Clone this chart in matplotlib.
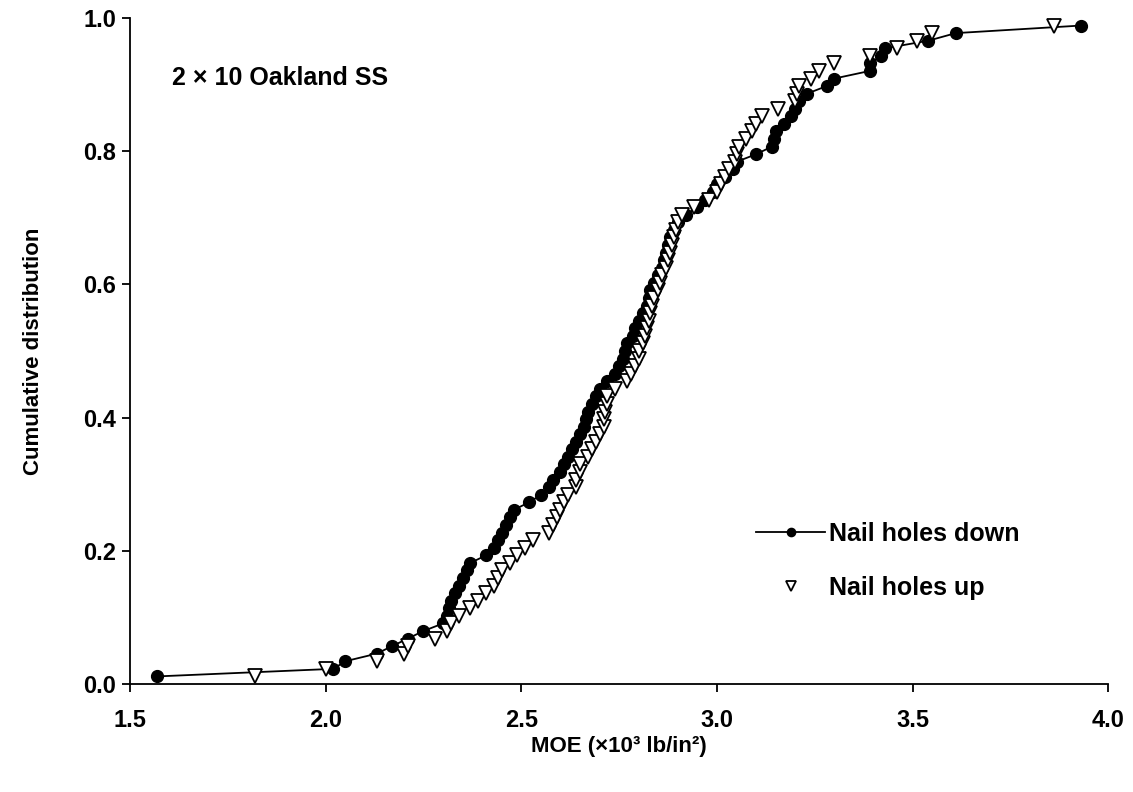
import matplotlib.pyplot as plt
import numpy as np

plt.rcParams['font.family'] = ['Liberation Sans', 'DejaVu Sans']
plt.rcParams['font.weight'] = 'bold'

# MOE values (x10^3 lb/in^2), sorted
moe_down = [1.57, 2.02, 2.05, 2.13, 2.17, 2.21, 2.25, 2.30, 2.31, 2.315,
            2.32, 2.33, 2.34, 2.35, 2.36, 2.37, 2.41, 2.43, 2.44, 2.45,
            2.46, 2.47, 2.48, 2.52, 2.55, 2.57, 2.58, 2.60, 2.61, 2.62,
            2.63, 2.64, 2.65, 2.66, 2.665, 2.67, 2.68, 2.69, 2.70, 2.72,
            2.74, 2.75, 2.76, 2.765, 2.77, 2.785, 2.79, 2.80, 2.81, 2.82,
            2.825, 2.83, 2.84, 2.85, 2.86, 2.865, 2.87, 2.875, 2.88, 2.89,
            2.90, 2.92, 2.95, 2.97, 2.99, 3.00, 3.02, 3.04, 3.05, 3.10,
            3.14, 3.145, 3.15, 3.17, 3.19, 3.20, 3.21, 3.23, 3.28, 3.30,
            3.39, 3.39, 3.42, 3.43, 3.54, 3.61, 3.93]

moe_up = [1.82, 2.00, 2.13, 2.20, 2.21, 2.28, 2.31, 2.32, 2.34, 2.37,
          2.39, 2.41, 2.43, 2.44, 2.45, 2.47, 2.49, 2.51, 2.53, 2.57,
          2.58, 2.59, 2.60, 2.61, 2.62, 2.64, 2.64, 2.65, 2.65, 2.67,
          2.68, 2.69, 2.70, 2.71, 2.71, 2.715, 2.72, 2.72, 2.74, 2.77,
          2.78, 2.79, 2.80, 2.80, 2.81, 2.815, 2.82, 2.825, 2.83, 2.835,
          2.84, 2.85, 2.855, 2.86, 2.87, 2.875, 2.88, 2.885, 2.89, 2.895,
          2.90, 2.91, 2.94, 2.98, 3.00, 3.01, 3.02, 3.03, 3.045, 3.05,
          3.055, 3.075, 3.09, 3.10, 3.115, 3.155, 3.20, 3.205, 3.21, 3.24,
          3.26, 3.30, 3.39, 3.46, 3.51, 3.55, 3.86]

xticks = [1.5, 2.0, 2.5, 3.0, 3.5, 4.0]
yticks = [0.0, 0.2, 0.4, 0.6, 0.8, 1.0]


def ecdf(vals):
    vals = np.sort(np.asarray(vals))
    n = len(vals)
    return vals, np.arange(1, n + 1) / (n + 1)


fig = plt.figure(figsize=(11.33, 7.92), dpi=100)
ax = fig.add_axes([0.1147, 0.1364, 0.8636, 0.8409])

x1, y1 = ecdf(moe_down)
x2, y2 = ecdf(moe_up)
ax.plot(x1, y1, '-o', color='black', lw=1.3, ms=8.5, label='Nail holes down')
ax.plot(x2, y2, 'v', color='black', mfc='white', mew=1.3, ms=10,
        linestyle='none', label='Nail holes up')

ax.set_xlim(1.5, 4.0)
ax.set_ylim(0, 1.0)
ax.set_xticks(xticks)
ax.set_yticks(yticks)
ax.set_xticklabels([f'{t:.1f}' for t in xticks])
ax.set_yticklabels([f'{t:.1f}' for t in yticks])
ax.tick_params(direction='out', length=6, width=1.3, labelsize=17)
ax.tick_params(axis='x', pad=12)
ax.tick_params(axis='y', pad=4)
for s in ['top', 'right']:
    ax.spines[s].set_visible(False)
for s in ['left', 'bottom']:
    ax.spines[s].set_linewidth(1.3)

ax.set_xlabel('MOE (×10³ lb/in²)', fontsize=16, fontweight='bold', labelpad=3)
ax.set_ylabel('Cumulative distribution', fontsize=16, fontweight='bold', labelpad=28)

ax.text(0.043, 0.91, '2 × 10 Oakland SS', transform=ax.transAxes,
        fontsize=18, fontweight='bold', va='center')

ax.legend(loc='center left', bbox_to_anchor=(0.617, 0.185), frameon=False,
          markerscale=0.7, handlelength=2.75, handletextpad=0.15,
          labelspacing=1.2, prop={'weight': 'bold', 'size': 18})

fig.savefig('out.png', dpi=100)
